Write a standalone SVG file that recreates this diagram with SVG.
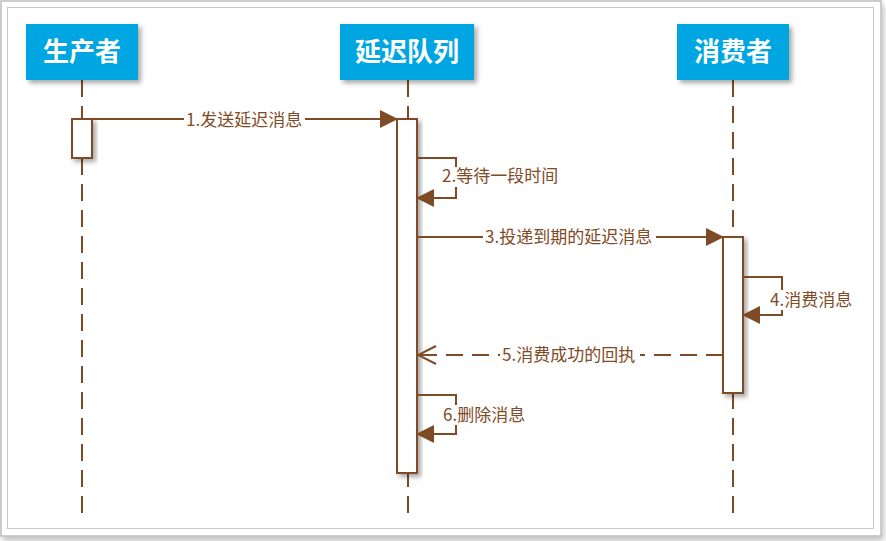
<svg xmlns="http://www.w3.org/2000/svg" width="886" height="541" viewBox="0 0 886 541">
<defs>
<filter id="sh" x="-20%" y="-20%" width="150%" height="150%">
<feDropShadow dx="3" dy="3" stdDeviation="2.5" flood-color="#000" flood-opacity="0.35"/>
</filter>
<filter id="fsh" x="-5%" y="-5%" width="110%" height="110%">
<feDropShadow dx="2" dy="4" stdDeviation="3" flood-color="#000" flood-opacity="0.25"/>
</filter>
<marker id="fill" markerWidth="18" markerHeight="18" viewBox="0 0 18 18" refX="17" refY="9" orient="auto" markerUnits="userSpaceOnUse">
<path d="M0,0 L18,9 L0,18 Z" fill="#7F4B26"/>
</marker>
<marker id="open" markerWidth="20" markerHeight="20" viewBox="0 0 20 20" refX="19" refY="10" orient="auto" markerUnits="userSpaceOnUse">
<path d="M1,1 L19,10 L1,19" fill="none" stroke="#7F4B26" stroke-width="2"/>
</marker>
</defs>
<style>
.hdr{fill:#00A6E2;filter:url(#sh)}
.ht{font-family:"Microsoft YaHei","Noto Sans CJK SC",sans-serif;font-size:26px;font-weight:bold;fill:#fff;text-anchor:middle}
.life{stroke:#7F4B26;stroke-width:2;stroke-dasharray:17 9;fill:none}
.act{fill:#fff;stroke:#7F4B26;stroke-width:2;filter:url(#sh)}
.msg{stroke:#7F4B26;stroke-width:2;fill:none}
.ret{stroke:#7F4B26;stroke-width:2;fill:none;stroke-dasharray:17 9}
.lb{font-family:"Microsoft YaHei","Noto Sans CJK SC",sans-serif;font-size:17px;fill:#7F4B26}
.bg{fill:#fff}
</style>
<rect x="1" y="1" width="880" height="535" fill="#fff" stroke="#BDBDBD" stroke-width="1.5" filter="url(#fsh)"/>
<rect x="7.5" y="7.5" width="866" height="521" fill="#fff" stroke="#C8C8C8" stroke-width="1"/>
<g id="lifelines">
<line class="life" x1="82" y1="80" x2="82" y2="518"/>
<line class="life" x1="408" y1="80" x2="408" y2="518"/>
<line class="life" x1="733" y1="80" x2="733" y2="518"/>
</g>
<g id="producer">
<rect class="hdr" x="26" y="24" width="112" height="56"/>
<text class="ht" x="82" y="61">生产者</text>
<rect class="act" x="72" y="119" width="20" height="39"/>
</g>
<g id="queue">
<rect class="hdr" x="340" y="24" width="134" height="56"/>
<text class="ht" x="407" y="61">延迟队列</text>
<rect class="act" x="397" y="119" width="20" height="354"/>
</g>
<g id="consumer">
<rect class="hdr" x="677" y="24" width="112" height="56"/>
<text class="ht" x="733" y="61">消费者</text>
<rect class="act" x="723" y="237" width="20" height="156"/>
</g>
<g id="connectors">
<path class="msg" d="M92,119 L397,119" marker-end="url(#fill)"/>
<path class="msg" d="M417,158 L456,158 L456,198 L417,198" marker-end="url(#fill)"/>
<path class="msg" d="M417,237 L723,237" marker-end="url(#fill)"/>
<path class="msg" d="M743,277 L782,277 L782,315 L743,315" marker-end="url(#fill)"/>
<path class="ret" d="M723,355 L418,355" marker-end="url(#open)"/>
<path class="msg" d="M417,395 L456,395 L456,434 L417,434" marker-end="url(#fill)"/>
</g>
<g id="labels">
<rect class="bg" x="184" y="110" width="121" height="20"/>
<text class="lb" x="186" y="126">1.发送延迟消息</text>
<rect class="bg" x="441" y="167" width="120" height="20"/>
<text class="lb" x="442" y="182">2.等待一段时间</text>
<rect class="bg" x="483" y="228" width="173" height="20"/>
<text class="lb" x="485" y="243">3.投递到期的延迟消息</text>
<rect class="bg" x="768" y="290" width="86" height="20"/>
<text class="lb" x="770" y="306">4.消费消息</text>
<rect class="bg" x="500" y="345" width="140" height="20"/>
<text class="lb" x="502" y="361">5.消费成功的回执</text>
<rect class="bg" x="441" y="405" width="88" height="20"/>
<text class="lb" x="443" y="421">6.删除消息</text>
</g>
</svg>
